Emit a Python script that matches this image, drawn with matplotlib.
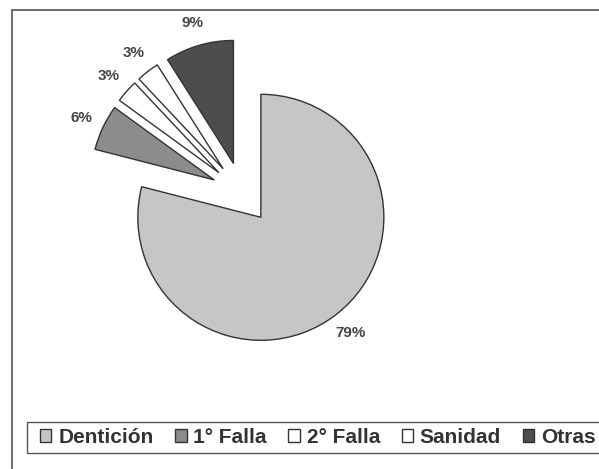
import matplotlib
matplotlib.use('Agg')
import matplotlib.pyplot as plt
from matplotlib.patches import Rectangle

# data
categories = ['Dentición', '1° Falla', '2° Falla', 'Sanidad', 'Otras']
percents = [79, 6, 3, 3, 9]
colors = ['#c6c6c6', '#8c8c8c', '#ffffff', '#ffffff', '#4d4d4d']

plt.rcParams['font.family'] = ['Liberation Sans', 'DejaVu Sans']

W, H = 599, 469
fig = plt.figure(figsize=(W / 100.0, H / 100.0), dpi=100)
fig.patch.set_facecolor('white')

# pie axes over whole figure, 1 data unit = radius in px
r_px = 123.0
cx, cy = 242.0, 193.0
ax = fig.add_axes([0, 0, 1, 1])
wedges, texts, autotexts = ax.pie(
    percents, colors=colors, startangle=90, counterclock=False,
    explode=[0.25] * len(percents), autopct='%1.0f%%', pctdistance=1.19,
    wedgeprops=dict(edgecolor='#333333', linewidth=1.0),
    textprops=dict(fontsize=11, color='#444444', fontweight='bold'))
ax.set_xlim(-cx / r_px, (W - cx) / r_px)
ax.set_ylim(-(H - cy) / r_px, cy / r_px)
ax.set_aspect('auto')
ax.axis('off')

# outer chart border (only left/top visible in reference)
fig.patches.append(Rectangle((12 / W, -0.1), 1.2, 1 - 10 / H + 0.1,
                             transform=fig.transFigure, fill=False,
                             edgecolor='#555555', linewidth=1.2))
# legend frame
fig.patches.append(Rectangle((27 / W, 1 - 453 / H), 1.1, 31 / H,
                             transform=fig.transFigure, fill=False,
                             edgecolor='#555555', linewidth=1.0))

leg = fig.legend(wedges, categories, loc='center left',
                 bbox_to_anchor=(40 / W, 1 - 437.5 / H), ncol=5, frameon=False,
                 prop=dict(size=15, weight='bold'), handlelength=0.55,
                 handleheight=0.55, handletextpad=0.33, columnspacing=1.03,
                 borderpad=0, borderaxespad=0)
for t in leg.get_texts():
    t.set_color('#333333')

fig.savefig('out.png', dpi=100, facecolor='white')
